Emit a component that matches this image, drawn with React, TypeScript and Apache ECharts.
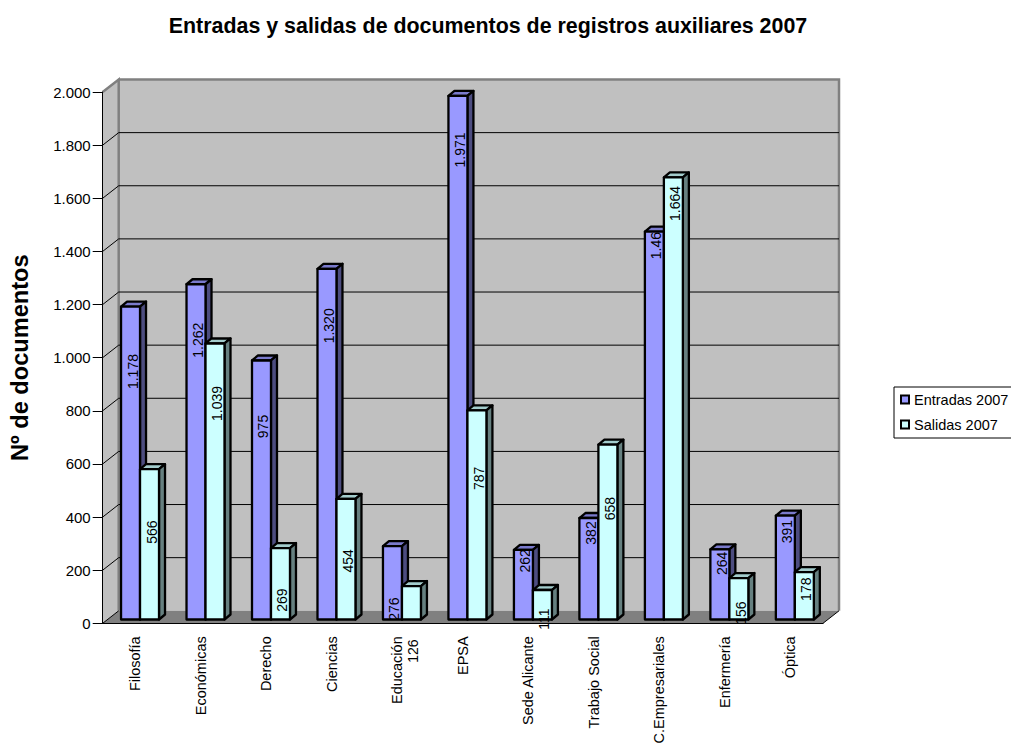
import React, { useEffect, useRef } from "react";
import * as echarts from "echarts";

const categories = ["Filosofía", "Económicas", "Derecho", "Ciencias", "Educación", "EPSA", "Sede Alicante", "Trabajo Social", "C.Empresariales", "Enfermería", "Óptica"];
const entradas = [1178, 1262, 975, 1320, 276, 1971, 262, 382, 1460, 264, 391];
const salidas = [566, 1039, 269, 454, 126, 787, 111, 658, 1664, 156, 178];
const yTicks = [0, 200, 400, 600, 800, 1000, 1200, 1400, 1600, 1800, 2000];
const entradasLabels = ["1.178", "1.262", "975", "1.320", "276", "1.971", "262", "382", "1.46", "264", "391"];
const salidasLabels = ["566", "1.039", "269", "454", "126", "787", "111", "658", "1.664", "156", "178"];
// how far below each bar's top its label sits, as in the source chart
const entradasLabelDrop = [65, 56, 66, 57, 63, 54, 11, 15, 14, 14, 16];
const salidasLabelDrop = [63, 60, 52, 62, 65, 68, 29, 64, 26, 35, 17];

const FONT = "'Liberation Sans', Arial, sans-serif";
const WALL_DX = 16;
const WALL_DY = 12.5;
const BAR_DX = 6;
const BAR_DY = 5;
const BAR_LIFT = 3.8;

function barSeries(name: string, values: number[], labels: string[], drops: number[], startRatio: number, front: string, top: string, side: string) {
  return {
    type: "custom",
    name,
    z: 3,
    silent: true,
    itemStyle: { color: front, borderColor: "#000", borderWidth: 2.5 },
    data: values.map((v, i) => [i, v]),
    renderItem: (params: any, api: any) => {
      const i = api.value(0);
      const val = api.value(1);
      const band = api.size([1, 0])[0];
      const center = api.coord([i, 0])[0];
      const base = api.coord([i, 0])[1] - BAR_LIFT;
      const y = api.coord([i, val])[1] - BAR_LIFT;
      const x = center - band / 2 + band * startRatio;
      const w = band * 0.29;
      const stroke = { stroke: "#000", lineWidth: 2.3, lineJoin: "round" };
      return {
        type: "group",
        children: [
          { type: "polygon", shape: { points: [[x, y], [x + BAR_DX, y - BAR_DY], [x + w + BAR_DX, y - BAR_DY], [x + w, y]] }, style: { fill: top, ...stroke } },
          { type: "polygon", shape: { points: [[x + w, y], [x + w + BAR_DX, y - BAR_DY], [x + w + BAR_DX, base - BAR_DY], [x + w, base]] }, style: { fill: side, ...stroke } },
          { type: "rect", shape: { x, y, width: w, height: base - y }, style: { fill: front } },
          {
            type: "text",
            x: x + w / 2 + 2,
            y: y + drops[params.dataIndex],
            rotation: Math.PI / 2,
            style: { text: labels[params.dataIndex], fill: "#000", fontSize: 14, fontFamily: FONT, align: "center", verticalAlign: "middle" },
          },
          { type: "rect", shape: { x, y, width: w, height: base - y }, style: { fill: "none", ...stroke } },
        ],
      };
    },
  };
}

export default function App() {
  const ref = useRef<HTMLDivElement>(null);
  useEffect(() => {
    const chart = echarts.init(ref.current!, undefined, { renderer: "svg" });
    chart.setOption({
      animation: false,
      backgroundColor: "#fff",
      title: {
        text: "Entradas y salidas de documentos de registros auxiliares 2007",
        left: 483,
        top: 10,
        textAlign: "center",
        textStyle: { fontFamily: FONT, fontWeight: "bold", fontSize: 21.4, color: "#000" },
      },
      legend: {
        orient: "vertical",
        left: 894,
        top: 387,
        padding: [5, 12, 6, 6],
        itemGap: 10,
        itemWidth: 8,
        itemHeight: 8,
        borderColor: "#000",
        borderWidth: 1,
        borderRadius: 0,
        selectedMode: false,
        textStyle: { fontFamily: FONT, fontSize: 14.5, color: "#000", padding: [0, 0, 0, 0] },
        data: [
          { name: "Entradas 2007", icon: "rect" },
          { name: "Salidas 2007", icon: "rect" },
        ],
      },
      grid: { left: 102.7, right: 1011 - 823, top: 92, bottom: 743 - 623.3, outerBoundsMode: "none", containLabel: false },
      xAxis: {
        type: "category",
        data: categories,
        z: 2,
        axisLine: { lineStyle: { color: "#000", width: 1 } },
        axisTick: { length: 10, lineStyle: { color: "#000" } },
        axisLabel: { rotate: 90, interval: 0, margin: 13, fontFamily: FONT, fontSize: 14.5, color: "#000" },
      },
      yAxis: {
        type: "value",
        min: 0,
        max: 2000,
        interval: 200,
        z: 2,
        name: "Nº de documentos",
        nameLocation: "middle",
        nameGap: 71,
        nameTextStyle: { fontFamily: FONT, fontWeight: "bold", fontSize: 23.6, color: "#000" },
        axisLine: { show: true, lineStyle: { color: "#000", width: 1 } },
        axisTick: { show: true, length: 10, lineStyle: { color: "#000" } },
        splitLine: { show: false },
        axisLabel: {
          margin: 12,
          fontFamily: FONT,
          fontSize: 15,
          color: "#000",
          formatter: (v: number) => (v >= 1000 ? `${Math.floor(v / 1000)}.${String(v % 1000).padStart(3, "0")}` : String(v)),
        },
      },
      series: [
        {
          type: "custom",
          name: "walls",
          z: 0,
          silent: true,
          data: [[0, 0]],
          renderItem: (params: any, api: any) => {
            const { x, y, width, height } = params.coordSys;
            const b = y + height;
            const r = x + width;
            return {
              type: "group",
              children: [
                { type: "polygon", shape: { points: [[x, y], [x + WALL_DX, y - WALL_DY], [x + WALL_DX, b - WALL_DY], [x, b]] }, style: { fill: "#c0c0c0" } },
                { type: "rect", shape: { x: x + WALL_DX, y: y - WALL_DY, width, height }, style: { fill: "#c0c0c0" } },
                { type: "polygon", shape: { points: [[x, b], [r, b], [r + WALL_DX, b - WALL_DY], [x + WALL_DX, b - WALL_DY]] }, style: { fill: "#808080" } },
                { type: "polyline", shape: { points: [[x, y], [x + WALL_DX, y - WALL_DY], [x + WALL_DX, b - WALL_DY]] }, style: { fill: "none", stroke: "#808080", lineWidth: 2.5 } },
                { type: "polyline", shape: { points: [[x + WALL_DX, y - WALL_DY], [r + WALL_DX, y - WALL_DY], [r + WALL_DX, b - WALL_DY]] }, style: { fill: "none", stroke: "#808080", lineWidth: 2.5 } },
                { type: "line", shape: { x1: r, y1: b, x2: r + WALL_DX, y2: b - WALL_DY }, style: { stroke: "#000", lineWidth: 1 } },
              ],
            };
          },
        },
        {
          type: "custom",
          name: "gridlines",
          z: 1,
          silent: true,
          data: yTicks.map((t) => [0, t]),
          renderItem: (params: any, api: any) => {
            const { x, width } = params.coordSys;
            const yv = api.coord([0, api.value(1)])[1];
            const val = api.value(1);
            if (val === 0) {
              return { type: "line", shape: { x1: x, y1: yv, x2: x + WALL_DX, y2: yv - WALL_DY }, style: { stroke: "#000", lineWidth: 1 } };
            }
            const children: any[] = [
              { type: "line", shape: { x1: x, y1: yv, x2: x + WALL_DX, y2: yv - WALL_DY }, style: { stroke: val === 2000 ? "#808080" : "#000", lineWidth: 1 } },
            ];
            if (val !== 2000) {
              children.push({ type: "line", shape: { x1: x + WALL_DX, y1: yv - WALL_DY, x2: x + WALL_DX + width, y2: yv - WALL_DY }, style: { stroke: "#000", lineWidth: 1 } });
            }
            return { type: "group", children };
          },
        },
        barSeries("Entradas 2007", entradas, entradasLabels, entradasLabelDrop, 0.28, "#9999ff", "#7a7acc", "#4d4d80"),
        barSeries("Salidas 2007", salidas, salidasLabels, salidasLabelDrop, 0.57, "#ccffff", "#a3cccc", "#668080"),
      ],
    });
    return () => chart.dispose();
  }, []);
  return <div ref={ref} style={{ position: "absolute", left: 0, top: 0, width: 1011, height: 743 }} />;
}
